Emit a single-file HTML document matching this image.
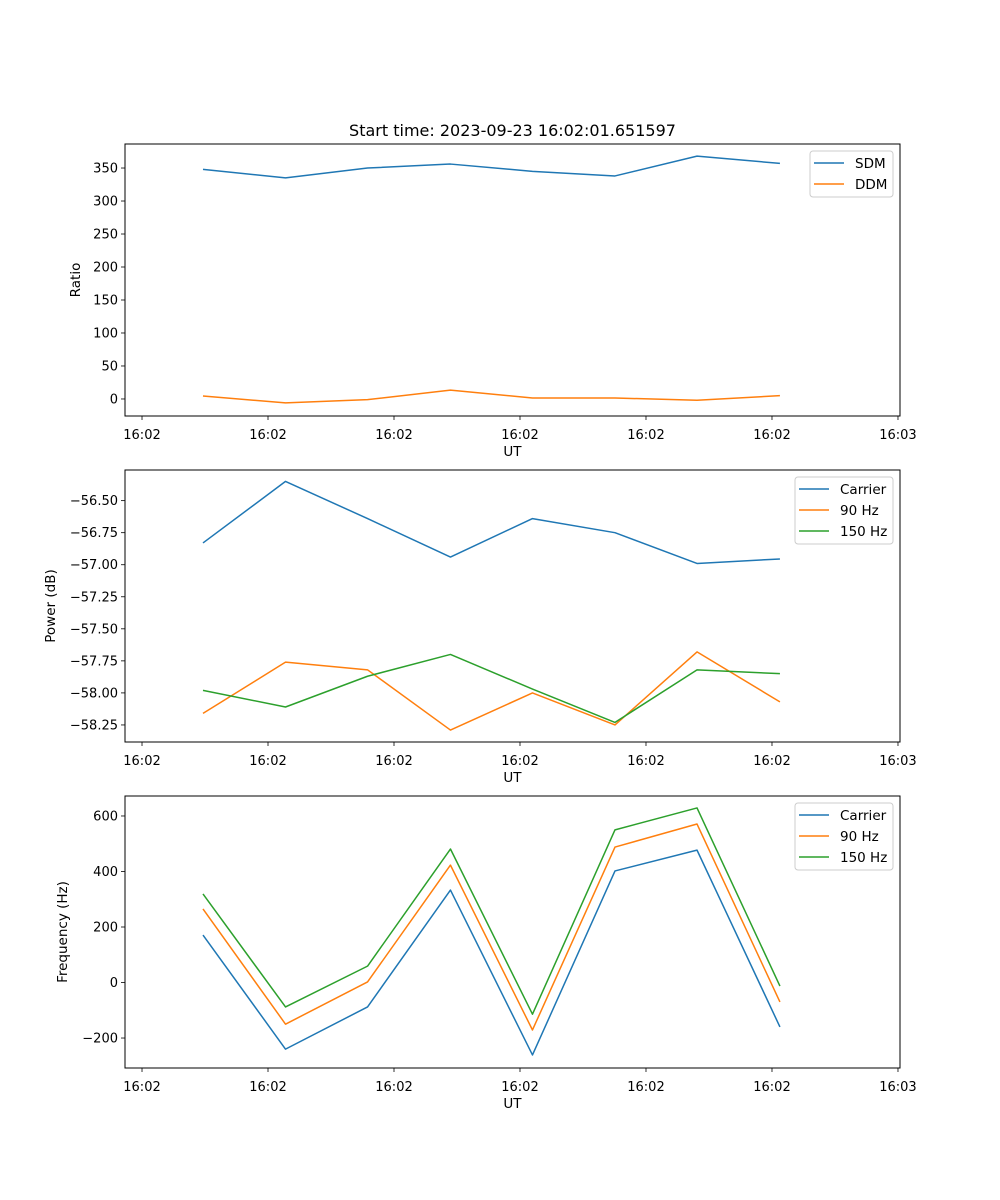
<!DOCTYPE html>
<html><head><meta charset="utf-8"><style>
html,body{margin:0;padding:0;background:#fff;}
svg{display:block;font-family:"DejaVu Sans","Liberation Sans",sans-serif;}
</style></head><body>
<svg id="fig" width="1000" height="1200" viewBox="0 0 1000 1200"></svg>
<script>
const times = [0.484, 1.139, 1.790, 2.448, 3.099, 3.754, 4.405, 5.063];
const xTicks = [0, 1, 2, 3, 4, 5, 6];
const xTickLabels = ["16:02","16:02","16:02","16:02","16:02","16:02","16:03"];
const sdm = [348, 335, 350, 356, 345, 338, 368, 357];
const ddm = [4.5, -6, -1, 13.5, 1.5, 1.5, -2, 5];
const ratioTicks = [0, 50, 100, 150, 200, 250, 300, 350];
const powCarrier = [-56.83, -56.35, -56.64, -56.94, -56.64, -56.75, -56.99, -56.955];
const pow90 = [-58.16, -57.76, -57.82, -58.29, -58.0, -58.25, -57.68, -58.07];
const pow150 = [-57.98, -58.11, -57.87, -57.70, -57.97, -58.23, -57.82, -57.85];
const powTicks = [-56.5, -56.75, -57.0, -57.25, -57.5, -57.75, -58.0, -58.25];
const freqCarrier = [171, -240, -88, 333, -261, 402, 477, -160];
const freq90 = [265, -150, 2, 423, -171, 488, 571, -70];
const freq150 = [319, -88, 59, 481, -114, 550, 629, -13];
const freqTicks = [-200, 0, 200, 400, 600];

const NS = "http://www.w3.org/2000/svg";
const svg = document.getElementById("fig");
const C = {blue:"#1f77b4", orange:"#ff7f0e", green:"#2ca02c"};
function mk(tag, attrs, parent){
  const e = document.createElementNS(NS, tag);
  for (const k in attrs) e.setAttribute(k, attrs[k]);
  (parent||svg).appendChild(e);
  return e;
}
const L = 125, R = 900;
const xMin = -0.135, xMax = 6.016;
function xs(v){ return L + (v - xMin) / (xMax - xMin) * (R - L); }

function panel(cfg){
  const g = mk("g", {});
  
  
  const T = cfg.top, B = cfg.top + 272;
  const ys = v => B - (v - cfg.yMin) / (cfg.yMax - cfg.yMin) * (B - T);
  cfg.series.forEach(s => {
    const p = mk("polyline", {points: s.vals.map((v,i)=>xs(times[i]).toFixed(2)+","+ys(v).toFixed(2)).join(" "), fill:"none", stroke:s.color, "stroke-width":1.5, "stroke-linejoin":"round"}, g);
    
    
  });
  const fr = mk("rect", {x:L, y:T, width:R-L, height:B-T, fill:"none", stroke:"#000", "stroke-width":1}, g);
  
  
  xTicks.forEach((t,i) => {
    const x = xs(t);
    mk("line", {x1:x, x2:x, y1:B, y2:B+4, stroke:"#000", "stroke-width":0.8}, g);
    const tx = mk("text", {x:x, y:B+23, "font-size":13, "text-anchor":"middle", fill:"#000"}, g);
    tx.textContent = xTickLabels[i];
    
    
  });
  const xl = mk("text", {x:(L+R)/2, y:B+40, "font-size":13.5, "text-anchor":"middle"}, g);
  xl.textContent = "UT";
  
  
  cfg.yTicks.forEach(t => {
    const y = ys(t);
    mk("line", {x1:L-4, x2:L, y1:y, y2:y, stroke:"#000", "stroke-width":0.8}, g);
    const tx = mk("text", {x:L-7, y:y+4.5, "font-size":13, "text-anchor":"end"}, g);
    tx.textContent = cfg.fmt(t);
    
    
  });
  const yl = mk("text", {x:0, y:0, "font-size":13.5, "text-anchor":"middle", transform:`translate(${cfg.ylx},${(T+B)/2}) rotate(-90)`}, g);
  yl.textContent = cfg.ylabel;
  
  
  const lg = mk("g", {}, g);
  
  
  const n = cfg.series.length;
  mk("rect", {x:cfg.legX, y:T+7, width:893-cfg.legX, height:n*21+4, rx:3, fill:"#fff", "fill-opacity":0.8, stroke:"#ccc", "stroke-width":1}, lg);
  cfg.series.forEach((s,i) => {
    const yy = T + 19 + i*21;
    mk("line", {x1:cfg.legX+4, x2:cfg.legX+34, y1:yy, y2:yy, stroke:s.color, "stroke-width":1.5}, lg);
    const tx = mk("text", {x:cfg.legX+45, y:yy+5, "font-size":13.5}, lg);
    tx.textContent = s.label;
    
    
  });
}

const title = mk("text", {x:(L+R)/2, y:136, "font-size":16, "text-anchor":"middle"});
title.textContent = "Start time: 2023-09-23 16:02:01.651597";



panel({name:"ratio-panel", top:144, yMin:-25.8, yMax:386.4, yTicks:ratioTicks, fmt:v=>String(v).replace("-","−"), ylabel:"Ratio", ylx:80, legX:810,
  series:[{id:"sdm",label:"SDM",vals:sdm,color:C.blue},{id:"ddm",label:"DDM",vals:ddm,color:C.orange}]});
panel({name:"power-panel", top:470, yMin:-58.383, yMax:-56.261, yTicks:powTicks, fmt:v=>v.toFixed(2).replace("-","−"), ylabel:"Power (dB)", ylx:55, legX:795,
  series:[{id:"carrier",label:"Carrier",vals:powCarrier,color:C.blue},{id:"90hz",label:"90 Hz",vals:pow90,color:C.orange},{id:"150hz",label:"150 Hz",vals:pow150,color:C.green}]});
panel({name:"frequency-panel", top:796, yMin:-308, yMax:672, yTicks:freqTicks, fmt:v=>String(v).replace("-","−"), ylabel:"Frequency (Hz)", ylx:67, legX:795,
  series:[{id:"carrier",label:"Carrier",vals:freqCarrier,color:C.blue},{id:"90hz",label:"90 Hz",vals:freq90,color:C.orange},{id:"150hz",label:"150 Hz",vals:freq150,color:C.green}]});
</script>
</body></html>
